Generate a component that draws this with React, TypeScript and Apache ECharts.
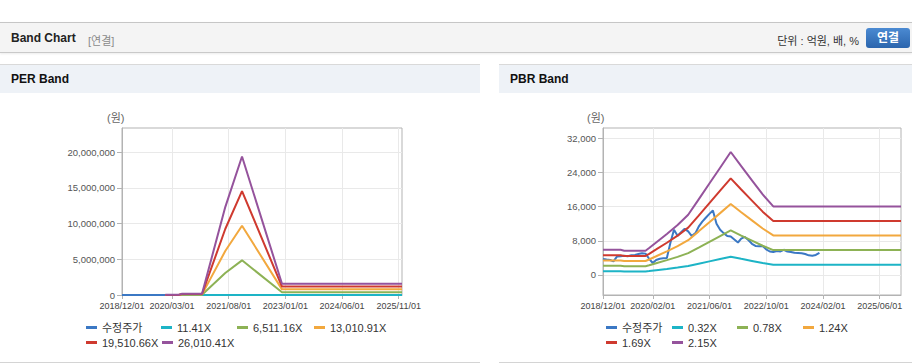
import React, { useEffect, useRef } from 'react';
import * as echarts from 'echarts';

const FONT = "'Liberation Sans', 'Noto Sans CJK KR', Arial, sans-serif";

// x-axis range (monthly)
const X_START = '2018/12/01';
const X_END = '2025/12/01';

// 수정주가 (monthly, starting 2018/12)
const PRICE_START = '2018/12';
const priceValues = [
  3740, 3600, 3500, 3180, 4350, 4400, 4500, 4400, 4600, 4700, 4900, 5100,
  5000, 3800, 2800, 3500, 3800, 3900, 4000, 7500, 10600, 9200, 10000, 10800,
  10200, 9100, 9800, 11300, 12500, 13400, 14300, 15100, 12000, 10600, 9800, 9100,
  9000, 8300, 7600, 8500, 8900, 8200, 7300, 6800, 6700, 6800, 6000, 5500,
  5400, 5600, 5500, 5900, 5500, 5400, 5200, 5150, 5100, 4900, 4600, 4500,
  4700, 5200,
];

// PER band
const perMonths = ['2020/01', '2020/05', '2020/06', '2020/12', '2021/07', '2021/12', '2022/12', '2025/12'];
const per1141 = [9, 9, 79, 79, 5400, 8500, 693, 693];
const per6511 = [5000, 5000, 45000, 45000, 3080000, 4850000, 395000, 395000];
const per13010 = [10000, 10000, 90000, 90000, 6150000, 9690000, 790000, 790000];
const per19510 = [15000, 15000, 135000, 135000, 9230000, 14540000, 1185000, 1185000];
const per26010 = [20000, 20000, 180000, 180000, 12300000, 19380000, 1580000, 1580000];
const perNames = ['수정주가', '11.41X', '6,511.16X', '13,010.91X', '19,510.66X', '26,010.41X'];
const perXTicks = ['2018/12/01', '2020/03/01', '2021/08/01', '2023/01/01', '2024/06/01', '2025/11/01'];
const perYTicks = [0, 5000000, 10000000, 15000000, 20000000];
const perYMin = 0;
const perYMax = 23360000;

// PBR band
const pbrMonths = ['2018/12', '2019/05', '2019/06', '2019/12', '2020/01', '2020/03', '2020/06', '2020/09', '2020/12', '2021/03', '2021/06', '2021/09', '2021/12', '2022/03', '2022/06', '2022/09', '2022/12', '2025/12'];
const pbr032 = [878, 878, 845, 845, 937, 1131, 1428, 1741, 2098, 2634, 3184, 3735, 4281, 3787, 3296, 2805, 2388, 2388];
const pbr078 = [2140, 2140, 2061, 2061, 2286, 2757, 3483, 4245, 5115, 6422, 7764, 9106, 10438, 9233, 8036, 6839, 5823, 5823];
const pbr124 = [3403, 3403, 3276, 3276, 3633, 4383, 5536, 6747, 8131, 10208, 12341, 14475, 16592, 14677, 12774, 10871, 9256, 9256];
const pbr169 = [4637, 4637, 4465, 4465, 4952, 5974, 7546, 9196, 11083, 13912, 16820, 19729, 22613, 20004, 17410, 14816, 12615, 12615];
const pbr215 = [5900, 5900, 5680, 5680, 6300, 7600, 9600, 11700, 14100, 17700, 21400, 25100, 28770, 25450, 22150, 18850, 16050, 16050];
const pbrNames = ['수정주가', '0.32X', '0.78X', '1.24X', '1.69X', '2.15X'];
const pbrXTicks = ['2018/12/01', '2020/02/01', '2021/06/01', '2022/10/01', '2024/02/01', '2025/06/01'];
const pbrYTicks = [0, 8000, 16000, 24000, 32000];
const pbrYMin = -4680;
const pbrYMax = 34390;

const COLORS = ['#3b78c4', '#1db4c6', '#8db255', '#f2a83e', '#cf3a2f', '#95539c'];

function ts(s: string): number {
  const p = s.split('/').map(Number);
  return new Date(p[0], p[1] - 1, p[2] || 1).getTime();
}
function pad(n: number) {
  return n < 10 ? '0' + n : '' + n;
}
function fmtDate(v: number) {
  const d = new Date(v);
  return `${d.getFullYear()}/${pad(d.getMonth() + 1)}/${pad(d.getDate())}`;
}
function monthSeq(start: string, n: number): number[] {
  const p = start.split('/').map(Number);
  const out: number[] = [];
  for (let i = 0; i < n; i++) out.push(new Date(p[0], p[1] - 1 + i, 1).getTime());
  return out;
}
function pairs(months: string[], vals: number[]) {
  return months.map((m, i) => [ts(m), vals[i]]);
}

type LegendPos = { left: number; top: number };

function buildOption(cfg: {
  grid: { left: number; right: number; top: number; bottom: number };
  names: string[];
  bands: number[][];
  bandMonths: string[];
  xTicks: string[];
  yTicks: number[];
  yMin: number;
  yMax: number;
  legendPos: LegendPos[];
  unitPos: { left: number; top: number };
}) {
  const priceDates = monthSeq(PRICE_START, priceValues.length);
  const priceData = priceDates.map((d, i) => [d, priceValues[i]]);
  const seriesData = [priceData, ...cfg.bands.map((b) => pairs(cfg.bandMonths, b))];
  const axisColor = '#b3b3b3';
  return {
    animation: false,
    grid: {
      ...cfg.grid,
      show: true,
      borderColor: axisColor,
      borderWidth: 1,
      backgroundColor: 'transparent',
      containLabel: false,
    },
    xAxis: {
      type: 'value',
      min: ts(X_START),
      max: ts(X_END),
      axisLine: { show: true, onZero: false, lineStyle: { color: axisColor } },
      axisTick: {
        show: true,
        length: 4,
        customValues: cfg.xTicks.map(ts),
        lineStyle: { color: axisColor },
      },
      axisLabel: {
        customValues: cfg.xTicks.map(ts),
        formatter: (v: number) => fmtDate(v),
        fontSize: 9,
        color: '#444',
        margin: 6,
        fontFamily: FONT,
        hideOverlap: false,
        showMinLabel: true,
        showMaxLabel: true,
      },
      splitLine: { show: true, lineStyle: { color: '#e9e9e9' } },
    },
    yAxis: {
      type: 'value',
      min: cfg.yMin,
      max: cfg.yMax,
      axisLine: { show: true, onZero: false, lineStyle: { color: axisColor } },
      axisTick: { show: true, length: 5, customValues: cfg.yTicks, lineStyle: { color: axisColor } },
      axisLabel: {
        customValues: cfg.yTicks,
        formatter: (v: number) => v.toLocaleString('en-US'),
        fontSize: 9.5,
        color: '#555',
        margin: 7,
        fontFamily: FONT,
      },
      splitLine: { show: true, lineStyle: { color: '#e9e9e9' } },
    },
    legend: cfg.names.map((n, i) => ({
      data: [n],
      left: cfg.legendPos[i].left,
      top: cfg.legendPos[i].top,
      padding: 0,
      itemWidth: 11,
      itemHeight: 3,
      icon: 'rect',
      itemStyle: { borderWidth: 0 },
      textStyle: { fontSize: 11, color: '#333', fontFamily: FONT },
    })),
    graphic: [
      {
        type: 'text',
        left: cfg.unitPos.left,
        top: cfg.unitPos.top,
        style: { text: '(원)', fill: '#666', font: `11px ${FONT}` },
      },
    ],
    series: cfg.names.map((n, i) => ({
      name: n,
      type: 'line',
      data: seriesData[i],
      showSymbol: false,
      symbol: 'none',
      color: COLORS[i],
      lineStyle: { width: 2, color: COLORS[i] },
      itemStyle: { color: COLORS[i] },
    })),
  };
}

function Chart(props: { option: any; style: React.CSSProperties }) {
  const ref = useRef<HTMLDivElement>(null);
  useEffect(() => {
    if (!ref.current) return;
    const chart = echarts.init(ref.current, undefined, { renderer: 'svg' });
    chart.setOption(props.option);
    return () => chart.dispose();
  }, []);
  return <div ref={ref} style={props.style} />;
}

export default function App() {
  const perOption = buildOption({
    grid: { left: 122, right: 78, top: 35, bottom: 67 },
    names: perNames,
    bands: [per1141, per6511, per13010, per19510, per26010],
    bandMonths: perMonths,
    xTicks: perXTicks,
    yTicks: perYTicks,
    yMin: perYMin,
    yMax: perYMax,
    legendPos: [
      { left: 86, top: 229 },
      { left: 161, top: 229 },
      { left: 237, top: 229 },
      { left: 314, top: 229 },
      { left: 86, top: 244 },
      { left: 162, top: 244 },
    ],
    unitPos: { left: 107, top: 19 },
  });
  const pbrOption = buildOption({
    grid: { left: 104, right: 11, top: 35, bottom: 67 },
    names: pbrNames,
    bands: [pbr032, pbr078, pbr124, pbr169, pbr215],
    bandMonths: pbrMonths,
    xTicks: pbrXTicks,
    yTicks: pbrYTicks,
    yMin: pbrYMin,
    yMax: pbrYMax,
    legendPos: [
      { left: 107, top: 229 },
      { left: 173, top: 229 },
      { left: 238, top: 229 },
      { left: 304, top: 229 },
      { left: 107, top: 244 },
      { left: 173, top: 244 },
    ],
    unitPos: { left: 88, top: 19 },
  });

  const panelTitle: React.CSSProperties = {
    position: 'absolute',
    left: 0,
    right: 0,
    top: 0,
    height: 28,
    borderTop: '1px solid #d9d9d9',
    background: '#eef2f7',
    fontWeight: 'bold',
    fontSize: 12,
    color: '#111',
    lineHeight: '28px',
    paddingLeft: 11,
  };

  return (
    <div style={{ position: 'relative', width: 912, height: 364, background: '#fff', fontFamily: FONT, overflow: 'hidden' }}>
      <style>{`body{margin:0;}`}</style>
      {/* header */}
      <div
        style={{
          position: 'absolute',
          left: 0,
          top: 22,
          width: 912,
          height: 29,
          borderTop: '1px solid #c6c6c6',
          borderBottom: '1px solid #c9c9c9',
          background: '#f4f4f4',
          boxShadow: '0 1px 2px rgba(0,0,0,0.08)',
        }}
      >
        <span style={{ position: 'absolute', left: 11, top: 8, fontSize: 12, fontWeight: 'bold', color: '#222' }}>Band Chart</span>
        <span style={{ position: 'absolute', left: 88, top: 9, fontSize: 11, color: '#8a8a8a' }}>[연결]</span>
        <span style={{ position: 'absolute', right: 53, top: 9, fontSize: 11, color: '#333' }}>단위 : 억원, 배, %</span>
        <div
          style={{
            position: 'absolute',
            left: 866,
            top: 5,
            width: 44,
            height: 20,
            borderRadius: 3,
            background: 'linear-gradient(#4b8ad2, #2b65ad)',
            color: '#fff',
            fontWeight: 'bold',
            fontSize: 12,
            lineHeight: '20px',
            textAlign: 'center',
          }}
        >
          연결
        </div>
      </div>
      {/* PER panel */}
      <div style={{ position: 'absolute', left: 0, top: 64, width: 480, height: 298, borderBottom: '1px solid #d4d4d4' }}>
        <div style={panelTitle}>PER Band</div>
      </div>
      {/* PBR panel */}
      <div style={{ position: 'absolute', left: 499, top: 64, width: 413, height: 298, borderBottom: '1px solid #d4d4d4' }}>
        <div style={panelTitle}>PBR Band</div>
      </div>
      <Chart option={perOption} style={{ position: 'absolute', left: 0, top: 93, width: 480, height: 269 }} />
      <Chart option={pbrOption} style={{ position: 'absolute', left: 499, top: 93, width: 413, height: 269 }} />
    </div>
  );
}
